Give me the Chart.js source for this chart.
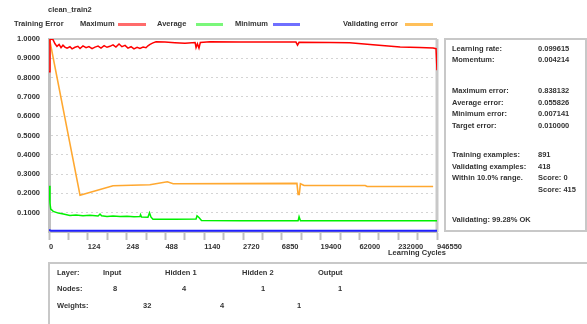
<!DOCTYPE html>
<html>
<head>
<meta charset="utf-8">
<script src="https://cdn.jsdelivr.net/npm/chart.js@4/dist/chart.umd.min.js"></script>
<style>
  body { margin: 0; background: #fff; }
  #wrap { position: relative; width: 587px; height: 324px; overflow: hidden;
          font: bold 7.5px "Liberation Sans", Arial, sans-serif; color: #333; }
  #wrap canvas { position: absolute; left: 0; top: 0; }
  .t { position: absolute; white-space: nowrap; line-height: 10px; }
  .sw { position: absolute; height: 3px; }
  .box { position: absolute; border: 2px solid #c8c8c8; box-sizing: border-box; }
</style>
</head>
<body>
<div id="wrap">
  <canvas id="trainChart" width="587" height="324"></canvas>

  <div class="t" style="left:48px;top:5px">clean_train2</div>
  <div class="t" style="left:14px;top:19px">Training Error</div>
  <div class="t" style="left:80px;top:19px">Maximum</div>
  <div class="sw" style="left:118px;top:23px;width:28px;background:#ff6b6b"></div>
  <div class="t" style="left:157px;top:19px">Average</div>
  <div class="sw" style="left:196px;top:23px;width:27px;background:#7af77a"></div>
  <div class="t" style="left:235px;top:19px">Minimum</div>
  <div class="sw" style="left:273px;top:23px;width:27px;background:#6f6fff"></div>
  <div class="t" style="left:343px;top:19px">Validating error</div>
  <div class="sw" style="left:405px;top:23px;width:28px;background:#ffc05a"></div>

  <div class="t" style="left:388px;top:248px">Learning Cycles</div>

  <div class="box" style="left:444px;top:38px;width:143px;height:194px"></div>
  <div class="t" style="left:452px;top:44px">Learning rate:</div>
  <div class="t" style="left:538px;top:44px">0.099615</div>
  <div class="t" style="left:452px;top:55px">Momentum:</div>
  <div class="t" style="left:538px;top:55px">0.004214</div>
  <div class="t" style="left:452px;top:86px">Maximum error:</div>
  <div class="t" style="left:538px;top:86px">0.838132</div>
  <div class="t" style="left:452px;top:98px">Average error:</div>
  <div class="t" style="left:538px;top:98px">0.055826</div>
  <div class="t" style="left:452px;top:109px">Minimum error:</div>
  <div class="t" style="left:538px;top:109px">0.007141</div>
  <div class="t" style="left:452px;top:121px">Target error:</div>
  <div class="t" style="left:538px;top:121px">0.010000</div>
  <div class="t" style="left:452px;top:150px">Training examples:</div>
  <div class="t" style="left:538px;top:150px">891</div>
  <div class="t" style="left:452px;top:162px">Validating examples:</div>
  <div class="t" style="left:538px;top:162px">418</div>
  <div class="t" style="left:452px;top:173px">Within 10.0% range.</div>
  <div class="t" style="left:538px;top:173px">Score: 0</div>
  <div class="t" style="left:538px;top:185px">Score: 415</div>
  <div class="t" style="left:452px;top:215px">Validating: 99.28% OK</div>

  <div class="box" style="left:48px;top:262px;width:560px;height:80px"></div>
  <div class="t" style="left:57px;top:268px">Layer:</div>
  <div class="t" style="left:103px;top:268px">Input</div>
  <div class="t" style="left:165px;top:268px">Hidden 1</div>
  <div class="t" style="left:242px;top:268px">Hidden 2</div>
  <div class="t" style="left:318px;top:268px">Output</div>
  <div class="t" style="left:57px;top:284px">Nodes:</div>
  <div class="t" style="left:113px;top:284px">8</div>
  <div class="t" style="left:182px;top:284px">4</div>
  <div class="t" style="left:261px;top:284px">1</div>
  <div class="t" style="left:338px;top:284px">1</div>
  <div class="t" style="left:57px;top:301px">Weights:</div>
  <div class="t" style="left:143px;top:301px">32</div>
  <div class="t" style="left:220px;top:301px">4</div>
  <div class="t" style="left:297px;top:301px">1</div>
</div>

<script>
// x axis is in "tick slots" (0..20), labels sit on every second slot
const cycleLabels = ['0', '124', '248', '488', '1140', '2720', '6850', '19400', '62000', '232000', '946550'];

const maxPos = [0, 0.05, 0.2, 0.31, 0.41, 0.52, 0.62, 0.72, 0.82, 0.93, 1.08, 1.19, 1.34, 1.49, 1.6, 1.75, 1.91, 2.06,
  2.22, 2.37, 2.53, 2.68, 2.84, 2.99, 3.14, 3.3, 3.45, 3.61, 3.76, 3.92, 4.07, 4.23, 4.38, 4.54, 4.69, 4.85, 5.0,
  5.1, 5.21, 5.36, 5.52, 5.98, 6.49, 7.01, 7.53, 7.58, 7.65, 7.73, 7.8, 8.3, 9.85, 11.4, 12.73, 12.81, 12.89,
  14.48, 15.5, 16.7, 18.1, 19.1, 19.8, 19.95, 20];
const maxErr = [0.83, 1.0, 0.998, 0.975, 0.962, 0.972, 0.955, 0.968, 0.958, 0.952, 0.96, 0.949, 0.957, 0.962, 0.951,
  0.964, 0.955, 0.961, 0.95, 0.958, 0.963, 0.953, 0.966, 0.957, 0.962, 0.97, 0.958, 0.974, 0.96, 0.967, 0.953,
  0.96, 0.949, 0.957, 0.951, 0.958, 0.955, 0.965, 0.972, 0.98, 0.986, 0.985, 0.981, 0.978, 0.982, 0.955, 0.975,
  0.953, 0.982, 0.986, 0.984, 0.985, 0.984, 0.968, 0.983, 0.982, 0.98, 0.97, 0.958, 0.956, 0.953, 0.95, 0.838];

const avgPos = [0, 0.05, 0.09, 0.22, 0.48, 0.74, 1.08, 1.39, 1.75, 2.11, 2.53, 2.63, 2.71, 2.99, 3.3, 3.66, 4.02,
  4.38, 4.69, 4.72, 4.77, 5.1, 5.18, 5.26, 5.36, 6.49, 7.58, 7.63, 7.73, 7.86, 9.85, 12.84, 12.89, 12.96, 20];
const avgErr = [0.24, 0.15, 0.119, 0.107, 0.098, 0.093, 0.086, 0.088, 0.084, 0.087, 0.083, 0.093, 0.084, 0.08, 0.083,
  0.08, 0.082, 0.079, 0.08, 0.09, 0.078, 0.077, 0.1, 0.077, 0.066, 0.066, 0.067, 0.084, 0.075, 0.06, 0.058, 0.058,
  0.079, 0.058, 0.058];

const minPos = [0, 0.1, 20];
const minErr = [0.01, 0.007, 0.007];

const valPos = [0.03, 1.6, 3.3, 5.2, 6.1, 6.4, 12.78, 12.84, 12.9, 12.96, 13.15, 16.3, 16.4, 19.8];
const valErr = [0.998, 0.19, 0.24, 0.245, 0.26, 0.25, 0.252, 0.195, 0.195, 0.25, 0.241, 0.241, 0.236, 0.236];

const pts = (xs, ys) => xs.map((x, i) => ({ x: x, y: ys[i] }));

// top and right edges of the plot frame
const frame = {
  id: 'frame',
  beforeDatasetsDraw(chart) {
    const { ctx, chartArea: a } = chart;
    ctx.save();
    ctx.strokeStyle = '#c8c8c8';
    ctx.lineWidth = 2;
    ctx.beginPath();
    ctx.moveTo(a.left, a.top);
    ctx.lineTo(a.right, a.top);
    ctx.stroke();
    ctx.lineWidth = 3;
    ctx.beginPath();
    ctx.moveTo(a.right, a.top);
    ctx.lineTo(a.right, a.bottom);
    ctx.stroke();
    ctx.restore();
  },
};

const font = { family: '"Liberation Sans", Arial, sans-serif', size: 7.5, weight: 'bold' };

new Chart(document.getElementById('trainChart'), {
  type: 'line',
  data: {
    datasets: [
      { label: 'Maximum', data: pts(maxPos, maxErr), borderColor: '#ff0000', borderWidth: 1.5 },
      { label: 'Average', data: pts(avgPos, avgErr), borderColor: '#00f000', borderWidth: 1.5 },
      { label: 'Minimum', data: pts(minPos, minErr), borderColor: '#2020ff', borderWidth: 2 },
      { label: 'Validating error', data: pts(valPos, valErr), borderColor: '#ffa830', borderWidth: 1.6 },
    ],
  },
  options: {
    responsive: false,
    animation: false,
    layout: { padding: { left: 0, top: 39, right: 150, bottom: 62 } },
    elements: { point: { radius: 0 }, line: { tension: 0 } },
    plugins: { legend: { display: false }, tooltip: { enabled: false } },
    scales: {
      x: {
        type: 'linear',
        min: 0,
        max: 20,
        afterFit: (s) => { s.height = 30; },
        ticks: {
          stepSize: 1,
          autoSkip: false,
          maxRotation: 0,
          align: 'start',
          padding: 2,
          color: '#333',
          font: font,
          callback: (v) => (v % 2 === 0 ? cycleLabels[v / 2] : ''),
        },
        grid: { drawOnChartArea: false, drawTicks: true, tickLength: 8, tickColor: '#c0c0c0', tickWidth: 2 },
        border: { color: '#c0c0c0', width: 2 },
      },
      y: {
        min: 0,
        max: 1,
        afterFit: (s) => { s.width = 49; },
        ticks: {
          stepSize: 0.1,
          padding: 9,
          color: '#333',
          font: font,
          callback: (v) => (v === 0 ? '' : v.toFixed(4)),
        },
        grid: {
          drawTicks: false,
          lineWidth: 1,
          color: (c) => (c.tick && (c.tick.value === 0 || c.tick.value === 1) ? 'rgba(0,0,0,0)' : '#d4d4d4'),
        },
        border: { color: '#c0c0c0', width: 3, dash: [2, 3] },
      },
    },
  },
  plugins: [frame],
});
</script>
</body>
</html>
